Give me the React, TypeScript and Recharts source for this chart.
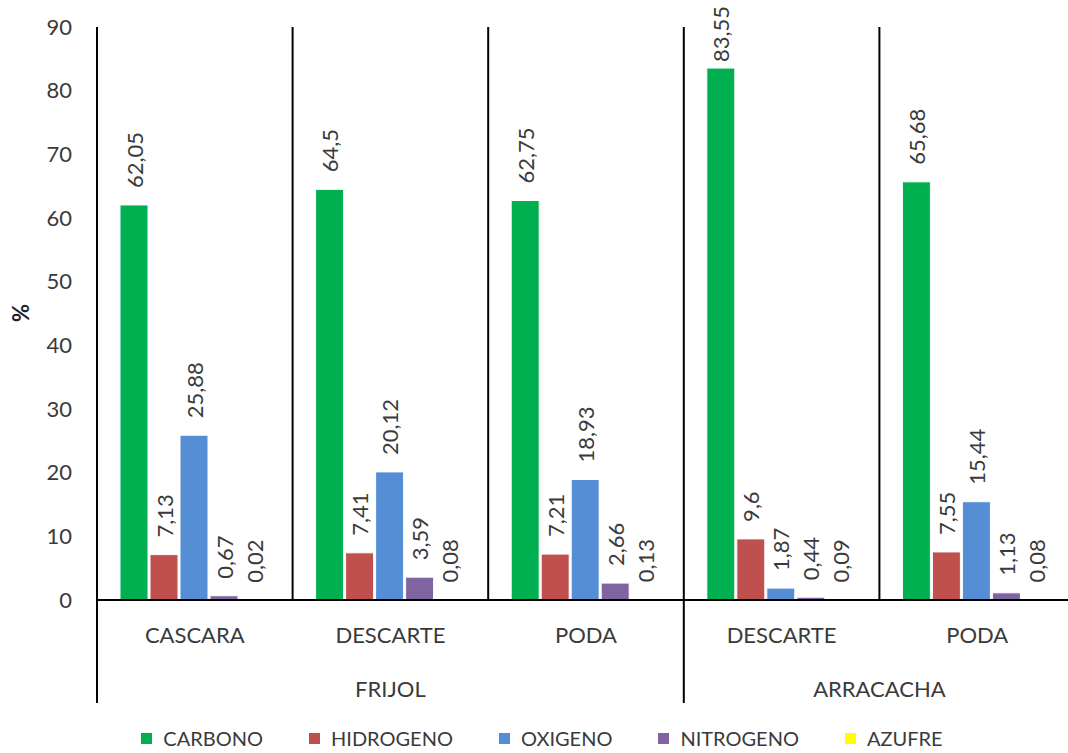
import React from 'react';
import { BarChart, Bar, XAxis, YAxis, ReferenceLine, LabelList, Legend, Label } from 'recharts';

const categories = ['CASCARA', 'DESCARTE', 'PODA', 'DESCARTE', 'PODA'];
const groups = [
  { name: 'FRIJOL', start: 0, count: 3 },
  { name: 'ARRACACHA', start: 3, count: 2 },
];
const carbono = [62.05, 64.5, 62.75, 83.55, 65.68];
const hidrogeno = [7.13, 7.41, 7.21, 9.6, 7.55];
const oxigeno = [25.88, 20.12, 18.93, 1.87, 15.44];
const nitrogeno = [0.67, 3.59, 2.66, 0.44, 1.13];
const azufre = [0.02, 0.08, 0.13, 0.09, 0.08];
const yTicks = [0, 10, 20, 30, 40, 50, 60, 70, 80, 90];

const series = [
  { key: 'CARBONO', values: carbono, color: '#00B050' },
  { key: 'HIDROGENO', values: hidrogeno, color: '#C0504D' },
  { key: 'OXIGENO', values: oxigeno, color: '#558ED5' },
  { key: 'NITROGENO', values: nitrogeno, color: '#8064A2' },
  { key: 'AZUFRE', values: azufre, color: '#FFFF00' },
];

const data = categories.map((c, i) => {
  const row: Record<string, any> = { id: String(i), cat: c };
  series.forEach((s) => {
    row[s.key] = s.values[i];
  });
  return row;
});

const FONT = "Lato, 'Liberation Sans', sans-serif";
const TEXT = '#3a3a3a';

const fmt = (v: any) => String(v).replace('.', ',');

const BarLabel = (props: any) => {
  const { x, y, width, value } = props;
  const txt = fmt(value);
  const cx = Number(x) + Number(width) / 2;
  const estLen = txt.length * 12.3;
  let ty = Number(y) - 17;
  let anchor: 'start' | 'end' = 'start';
  if (ty - estLen < 6) {
    ty = 6;
    anchor = 'end';
  }
  return (
    <text
      transform={`translate(${cx},${ty}) rotate(-90)`}
      textAnchor={anchor}
      dominantBaseline="central"
      fontFamily={FONT}
      fontSize={22}
      fill={TEXT}
    >
      {txt}
    </text>
  );
};

const XTick = (props: any) => {
  const { x, y, payload } = props;
  const i = Number(payload.value);
  const off = payload && typeof payload.offset === 'number' && payload.offset > 0 ? payload.offset : 97.8;
  const g = groups.find((gr) => gr.start === i);
  return (
    <g>
      <text
        x={x}
        y={y + 34}
        textAnchor="middle"
        dominantBaseline="central"
        fontFamily={FONT}
        fontSize={22}
        fill={TEXT}
      >
        {categories[i]}
      </text>
      {g && (
        <g>
          <line x1={x - off} x2={x - off} y1={y} y2={y + 103} stroke="#000" strokeWidth={2} />
          <text
            x={x - off + g.count * off}
            y={y + 88}
            textAnchor="middle"
            dominantBaseline="central"
            fontFamily={FONT}
            fontSize={22}
            fill={TEXT}
          >
            {g.name}
          </text>
        </g>
      )}
    </g>
  );
};

const LegendContent = () => (
  <div
    style={{
      display: 'flex',
      justifyContent: 'center',
      alignItems: 'center',
      fontFamily: FONT,
      fontSize: 20,
      color: TEXT,
      paddingLeft: 16,
    }}
  >
    {series.map((s, idx) => (
      <div
        key={s.key}
        style={{ display: 'flex', alignItems: 'center', marginRight: idx < series.length - 1 ? 46 : 0 }}
      >
        <span
          style={{ display: 'inline-block', width: 11, height: 11, background: s.color, marginRight: 11 }}
        />
        <span>{s.key}</span>
      </div>
    ))}
  </div>
);

export default function App() {
  return (
    <div style={{ position: 'absolute', left: 0, top: 0, width: 1068, height: 753, background: '#fff' }}>
      <BarChart
        width={1068}
        height={753}
        data={data}
        margin={{ top: 27, right: -7, left: 0, bottom: 0 }}
        barCategoryGap={23}
        barGap={2}
      >
        <XAxis
          dataKey="id"
          interval={0}
          height={123}
          tickSize={0}
          tickMargin={0}
          tickLine={false}
          axisLine={{ stroke: '#000', strokeWidth: 2 }}
          tick={<XTick />}
        />
        <YAxis
          domain={[0, 90]}
          ticks={yTicks}
          width={97}
          tickSize={0}
          tickMargin={25}
          tickLine={false}
          axisLine={{ stroke: '#000', strokeWidth: 2 }}
          tick={{ fontFamily: FONT, fontSize: 22, fill: TEXT }}
          interval={0}
        >
          <Label
            content={() => (
              <text
                transform="translate(20,313) rotate(-90)"
                textAnchor="middle"
                dominantBaseline="central"
                fontFamily={FONT}
                fontSize={22}
                fontWeight="bold"
                fill="#222"
              >
                %
              </text>
            )}
          />
        </YAxis>
        {[1, 2, 3, 4].map((i) => (
          <ReferenceLine
            key={i}
            x={String(i)}
            position="start"
            stroke="#000"
            strokeWidth={2}
            ifOverflow="visible"
          />
        ))}
        {series.map((s) => (
          <Bar
            key={s.key}
            dataKey={s.key}
            fill={s.color}
            stroke="#fff"
            strokeWidth={1}
            isAnimationActive={false}
          >
            <LabelList dataKey={s.key} content={<BarLabel />} />
          </Bar>
        ))}
        <Legend
          verticalAlign="bottom"
          height={30}
          content={<LegendContent />}
          wrapperStyle={{ left: 0, width: 1068, bottom: -3 }}
        />
      </BarChart>
    </div>
  );
}
